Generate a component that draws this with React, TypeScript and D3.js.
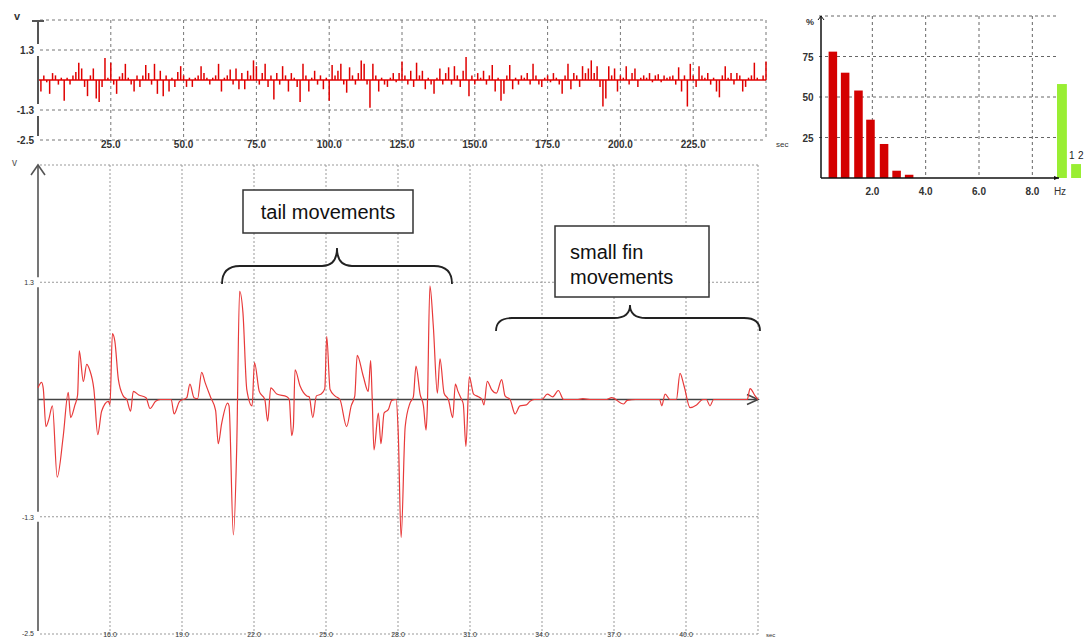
import React from 'react';
import * as d3 from 'd3';

// overview trace, one reading per second (0..250 s), volts
const overviewVolts = [
  0.75, -0.5, 0.2, -0.1, -0.6, 0.3, 0.2, -0.2, 0.1, -0.9,
  0.1, -0.2, 0.2, 0.35, 0.75, 0.5, -0.3, -0.7, 0.2, 0.5,
  -0.8, -0.95, -0.3, 0.95, 0.1, 0.75, -0.2, -0.6, 0.15, 0.3,
  0.7, 0.1, -0.2, -0.5, 0.2, -0.3, 0.2, 0.65, 0.3, -0.2,
  0.7, -0.6, 0.4, -0.7, 0.2, -0.5, 0.1, -0.3, 0.35, 0.6,
  0.2, -0.3, 0.1, -0.3, 0.1, 0.2, 0.6, 0.3, 0.1, -0.2,
  0.1, 0.2, 0.7, -0.5, 0.1, 0.2, 0.45, -0.2, 0.5, -0.4,
  0.3, -0.4, 0.4, 0.2, 0.85, 0.6, -0.2, 0.3, 0.7, -0.3,
  0.2, -0.85, 0.3, -0.2, 0.6, 0.2, -0.5, 0.3, 0.1, -0.3,
  -0.95, 0.7, 0.2, -0.5, 0.1, 0.4, -0.2, 0.2, -0.4, 0.1,
  -0.9, 0.65, 0.2, 0.4, 0.7, -0.2, -0.55, 0.55, 0.2, -0.2,
  0.3, 0.85, 0.7, -0.2, -1.2, 0.7, 0.2, -0.5, 0.1, -0.2,
  -0.3, 0.1, 0.3, -0.1, 0.3, 0.8, 0.2, -0.2, 0.4, -0.3,
  0.75, 0.2, 0.4, -0.4, 0.1, -0.2, -0.6, 0.1, 0.5, -0.2,
  0.3, 0.55, -0.2, 0.6, 0.2, -0.3, 0.4, 1.0, -0.7, 0.2,
  -0.2, 0.3, 0.1, 0.4, -0.2, 0.2, 0.65, -0.5, 0.1, -0.9,
  -0.6, 0.2, 0.65, -0.4, 0.1, -0.2, 0.2, 0.1, 0.3, -0.2,
  0.7, 0.2, -0.2, -0.3, 0.1, 0.2, -0.1, 0.3, 0.1, -0.2,
  -0.6, 0.2, 0.7, -0.4, 0.3, 0.2, -0.3, 0.6, 0.3, 0.5,
  0.85, 0.3, 0.6, -0.3, -1.15, -0.8, 0.6, 0.2, 0.5, -0.5,
  0.2, 0.1, 0.6, -0.2, 0.3, 0.5, -0.3, 0.1, 0.2, 0.1,
  0.3, -0.1, 0.2, 0.25, -0.1, 0.2, 0.1, 0.15, 0.2, -0.2,
  0.55, -0.5, 0.2, -1.15, 0.7, 0.2, -0.3, 0.6, 0.2, 0.1,
  0.3, -0.2, 0.1, -0.5, -0.75, 0.2, 0.6, 0.1, 0.3, -0.2,
  0.3, 0.2, -0.5, -0.3, 0.1, 0.2, 0.75, 0.1, 0.0, 0.2,
  0.8,
];
const overviewTicks = [25, 50, 75, 100, 125, 150, 175, 200, 225];

// zoomed trace 13..43 s
const detailTime = [
  13.0, 13.15, 13.22, 13.33, 13.45, 13.6, 13.8, 14.05, 14.26, 14.36,
  14.54, 14.65, 14.72, 14.89, 15.03, 15.15, 15.33, 15.49, 15.65, 15.93,
  16.0, 16.1, 16.2, 16.35, 16.55, 16.7, 16.86, 16.97, 17.2, 17.5,
  17.67, 17.9, 18.1, 18.55, 18.67, 18.9, 19.2, 19.33, 19.5, 19.65,
  19.82, 19.96, 20.2, 20.4, 20.51, 20.65, 20.9, 20.96, 21.14, 21.28,
  21.4, 21.54, 21.7, 21.92, 22.02, 22.22, 22.45, 22.57, 22.7, 22.95,
  23.37, 23.47, 23.57, 23.64, 23.71, 23.92, 24.2, 24.3, 24.45, 24.6,
  24.8, 24.95, 25.03, 25.17, 25.37, 25.58, 25.86, 26.05, 26.2, 26.3,
  26.55, 26.76, 26.86, 26.92, 27.0, 27.18, 27.29, 27.42, 27.6, 27.74,
  27.92, 28.01, 28.13, 28.3, 28.5, 28.64, 28.75, 28.92, 29.06, 29.17,
  29.22, 29.33, 29.47, 29.64, 29.75, 29.92, 30.1, 30.28, 30.39, 30.5,
  30.65, 30.72, 30.83, 30.97, 31.15, 31.35, 31.5, 31.58, 31.72, 31.9,
  32.1, 32.32, 32.46, 32.67, 32.88, 33.08, 33.35, 33.5, 33.67, 34.0,
  34.22, 34.45, 34.68, 34.9, 35.5, 35.7, 36.0, 36.7, 36.9, 37.4,
  37.55, 37.9, 38.9, 38.99, 39.13, 39.33, 39.6, 39.75, 39.92, 40.17,
  40.44, 40.7, 40.85, 41.0, 41.15, 42.0, 42.55, 42.67, 42.88, 43.0,
];
const detailVolts = [
  0.13, 0.19, 0.12, -0.3, -0.22, -0.07, -0.86, -0.41, 0.08, -0.2,
  -0.06, 0.05, 0.54, 0.2, 0.39, 0.33, 0.11, -0.39, -0.13, -0.02,
  -0.06, 0.73, 0.65, 0.22, 0.04, 0.0, -0.13, 0.09, 0.05, 0.02,
  -0.1, -0.02, 0.0, 0.0, -0.16, -0.02, 0.02, 0.17, 0.02, 0.01,
  0.3, 0.19, 0.02, -0.12, -0.49, -0.27, -0.04, -0.07, -1.5, -0.53,
  1.2, 0.96, 0.11, -0.07, 0.41, 0.09, 0.0, -0.24, 0.13, 0.06,
  0.03, 0.0, -0.4, -0.3, 0.33, 0.15, 0.04, 0.03, -0.2, 0.04,
  0.06, 0.12, 0.7, 0.11, 0.04, 0.0, -0.3, -0.07, 0.04, 0.49,
  0.26, 0.09, 0.43, 0.05, -0.56, -0.15, -0.49, -0.15, -0.11, -0.01,
  0.0, -0.37, -1.53, -0.3, -0.04, 0.03, 0.37, 0.06, -0.07, -0.34,
  -0.1, 1.26, 0.82, 0.07, 0.45, 0.07, 0.0, -0.2, 0.17, 0.09,
  0.0, -0.05, -0.52, 0.25, 0.06, 0.03, 0.0, -0.06, 0.2, 0.11,
  0.07, 0.22, 0.04, 0.0, -0.16, -0.07, -0.06, -0.02, 0.0, 0.0,
  0.06, 0.03, 0.1, 0.0, 0.0, 0.01, 0.0, 0.0, 0.02, -0.05,
  -0.01, 0.0, 0.0, -0.07, 0.06, 0.0, 0.0, 0.29, 0.15, -0.09,
  -0.06, 0.0, 0.0, -0.07, 0.0, 0.0, 0.0, 0.12, 0.04, 0.0,
];
const detailTicks = [16, 19, 22, 25, 28, 31, 34, 37, 40];

// shared y ticks of both traces
const voltTicks = [1.3, -1.3, -2.6];
const voltLabels = ['1.3', '-1.3', '-2.5'];

// spectrum (% per frequency bin)
const binHz = [0.52, 0.98, 1.48, 1.93, 2.44, 2.91, 3.38];
const binPct = [78, 65, 54, 36, 21, 4.5, 2];
const hzTicks = [2, 4, 6, 8];
const pctTicks = [25, 50, 75];
const sideKeys = ['a', 'b'];
const sidePct = [58, 8.6];

const FONT = "Arial, 'Liberation Sans', sans-serif";
const AX = '#555';

const App = () => {
  // ---- overview ----
  const xTop = d3.scaleLinear().domain([0, 250]).range([38, 766]);
  const yTop = d3.scaleLinear().domain([-2.6, 2.6]).range([140, 20]);

  // ---- detail ----
  const xBot = d3.scaleLinear().domain([13, 43]).range([38, 758]);
  const yBot = d3.scaleLinear().domain([-2.6, 2.6]).range([634, 165]);
  const detailLine = d3.line<number>()
    .x((d, i) => xBot(detailTime[i]))
    .y(d => yBot(d))
    .curve(d3.curveMonotoneX);

  // ---- spectrum ----
  const xHz = d3.scaleLinear().domain([0, 9]).range([819, 1059]);
  const yPct = d3.scaleLinear().domain([0, 100]).range([178, 16]);
  const side = d3.scaleBand().domain(sideKeys).range([1057, 1081]).paddingInner(0.3);
  const barW = xHz(0.32) - xHz(0);

  return (
    <svg width={1085} height={638} style={{ position: 'absolute', left: 0, top: 0, background: '#fff' }}
      fontFamily={FONT}>
      {/* ================= overview trace ================= */}
      <g>
        {[2.6, 1.3, -1.3, -2.6].map(v => (
          <line key={v} x1={40} x2={xTop(250)} y1={yTop(v)} y2={yTop(v)}
            stroke="#777" strokeDasharray="3,3" />
        ))}
        {[...overviewTicks, 250].map(t => (
          <line key={t} x1={xTop(t)} x2={xTop(t)} y1={yTop(2.6)} y2={yTop(-2.6)}
            stroke="#777" strokeDasharray="3,3" />
        ))}
        <line x1={xTop(0)} x2={xTop(250)} y1={yTop(0)} y2={yTop(0)} stroke="#e00000" strokeWidth={1.3} />
        {overviewVolts.map((v, i) => (
          <line key={i} x1={xTop(i)} x2={xTop(i)} y1={yTop(0)} y2={yTop(v)}
            stroke="#e00000" strokeWidth={1.5} />
        ))}
        {/* y axis with gaps at labels */}
        <path d={`M38,${yTop(2.6)}V${yTop(1.3) - 6}M38,${yTop(1.3) + 6}V${yTop(-1.3) - 6}M38,${yTop(-1.3) + 6}V${yTop(-2.6) - 4}`}
          stroke={AX} strokeWidth={2} fill="none" />
        <path d={`M32,${yTop(2.6) + 1}H44`} stroke={AX} strokeWidth={2} />
        <text x={14} y={20} fontSize={11} fill="#333" fontWeight="bold">v</text>
        {voltTicks.map((v, i) => (
          <text key={v} x={34} y={yTop(v) + 4} fontSize={10} fill="#333" fontWeight="bold" textAnchor="end">
            {voltLabels[i]}
          </text>
        ))}
        {overviewTicks.map(t => (
          <text key={t} x={xTop(t)} y={148} fontSize={10} fill="#333" fontWeight="bold" textAnchor="middle">
            {t.toFixed(1)}
          </text>
        ))}
        <text x={776} y={147} fontSize={8} fill="#333">sec</text>
      </g>

      {/* ================= spectrum ================= */}
      <g>
        {[100, ...pctTicks].map(p => (
          <line key={p} x1={xHz(0)} x2={xHz(9)} y1={yPct(p)} y2={yPct(p)}
            stroke="#666" strokeDasharray="3,3" />
        ))}
        {hzTicks.map(h => (
          <line key={h} x1={xHz(h)} x2={xHz(h)} y1={yPct(100)} y2={yPct(0)}
            stroke="#666" strokeDasharray="3,3" />
        ))}
        {binHz.map((h, i) => (
          <rect key={h} x={xHz(h) - barW / 2} width={barW} y={yPct(binPct[i])}
            height={yPct(0) - yPct(binPct[i])} fill="#d40000" />
        ))}
        {sideKeys.map((k, i) => (
          <rect key={k} x={side(k)} width={side.bandwidth()} y={yPct(sidePct[i])}
            height={yPct(0) - yPct(sidePct[i])} fill="#99ee33" />
        ))}
        <line x1={821} x2={821} y1={yPct(100)} y2={yPct(0)} stroke="#111" strokeWidth={1.5} />
        <path d={`M818,${yPct(100) + 4}L821,${yPct(100)}L824,${yPct(100) + 4}`} stroke="#111" fill="none" />
        <line x1={821} x2={xHz(9)} y1={yPct(0)} y2={yPct(0)} stroke="#111" strokeWidth={1.5} />
        <path d={`M${xHz(9) - 5},${yPct(0) - 2}L${xHz(9)},${yPct(0)}L${xHz(9) - 5},${yPct(0) + 2}Z`} fill="#111" />
        <text x={806} y={25} fontSize={9} fill="#333" fontWeight="bold">%</text>
        {pctTicks.map(p => (
          <text key={p} x={808} y={yPct(p) + 4} fontSize={10} fill="#333" fontWeight="bold" textAnchor="middle">{p}</text>
        ))}
        {hzTicks.map(h => (
          <text key={h} x={xHz(h)} y={195} fontSize={10} fill="#333" fontWeight="bold" textAnchor="middle">{h.toFixed(1)}</text>
        ))}
        <text x={1060} y={195} fontSize={10} fill="#333" textAnchor="middle">Hz</text>
        <text x={1069} y={159} fontSize={10} fill="#222">1</text>
        <text x={1078} y={159} fontSize={10} fill="#222">2</text>
      </g>

      {/* ================= detail trace ================= */}
      <g>
        {[2.6, 1.3, -1.3, -2.6].map(v => (
          <line key={v} x1={40} x2={xBot(43)} y1={yBot(v)} y2={yBot(v)}
            stroke="#999" strokeDasharray="2,2" />
        ))}
        {[...detailTicks, 43].map(t => (
          <line key={t} x1={xBot(t)} x2={xBot(t)} y1={yBot(2.6)} y2={yBot(-2.6)}
            stroke="#999" strokeDasharray="2,2" />
        ))}
        <path d={`M38,${yBot(2.6)}V${yBot(1.3) - 5}M38,${yBot(1.3) + 5}V${yBot(-1.3) - 5}M38,${yBot(-1.3) + 5}V${yBot(-2.6) - 3}`}
          stroke={AX} strokeWidth={1.6} fill="none" />
        <path d={`M31,${yBot(2.6) + 10}L38,${yBot(2.6)}L45,${yBot(2.6) + 10}`} stroke={AX} strokeWidth={1.6} fill="none" />
        <line x1={38} x2={xBot(43)} y1={yBot(0)} y2={yBot(0)} stroke="#444" strokeWidth={1.6} />
        <path d={`M${xBot(43) - 11},${yBot(0) - 5}L${xBot(43)},${yBot(0)}L${xBot(43) - 11},${yBot(0) + 5}`}
          stroke="#444" strokeWidth={1.6} fill="none" />
        <path d={detailLine(detailVolts) || ''} fill="none" stroke="#e83a3a" strokeWidth={1.2} strokeLinejoin="round" />
        <text x={12} y={166} fontSize={10} fill="#555">v</text>
        {voltTicks.map((v, i) => (
          <text key={v} x={34} y={Math.min(yBot(v) + 3, 636)} fontSize={7} fill="#333" textAnchor="end">{voltLabels[i]}</text>
        ))}
        {detailTicks.map(t => (
          <text key={t} x={xBot(t)} y={637} fontSize={7} fill="#333" textAnchor="middle">{t.toFixed(1)}</text>
        ))}
        <text x={766} y={637} fontSize={6} fill="#333">sec</text>
      </g>

      {/* ================= annotations ================= */}
      <g fill="none" stroke="#222" strokeWidth={1.8}>
        <path d="M222,284 Q222,266 240,266 L322,266 Q337,266 337,248 Q337,266 352,266 L434,266 Q452,266 452,284" />
        <path d="M496,331 Q496,318 512,318 L614,318 Q630,318 630,305 Q630,318 646,318 L744,318 Q760,318 760,331" />
      </g>
      <rect x={243} y={190} width={170} height={43} fill="#fff" stroke="#333" strokeWidth={1.5} />
      <text x={328} y={219} fontSize={20} fill="#111" textAnchor="middle">tail movements</text>
      <rect x={555} y={226} width={154} height={71} fill="#fff" stroke="#333" strokeWidth={1.5} />
      <text x={570} y={259} fontSize={20} fill="#111">small fin</text>
      <text x={570} y={284} fontSize={20} fill="#111">movements</text>
    </svg>
  );
};

export default App;
